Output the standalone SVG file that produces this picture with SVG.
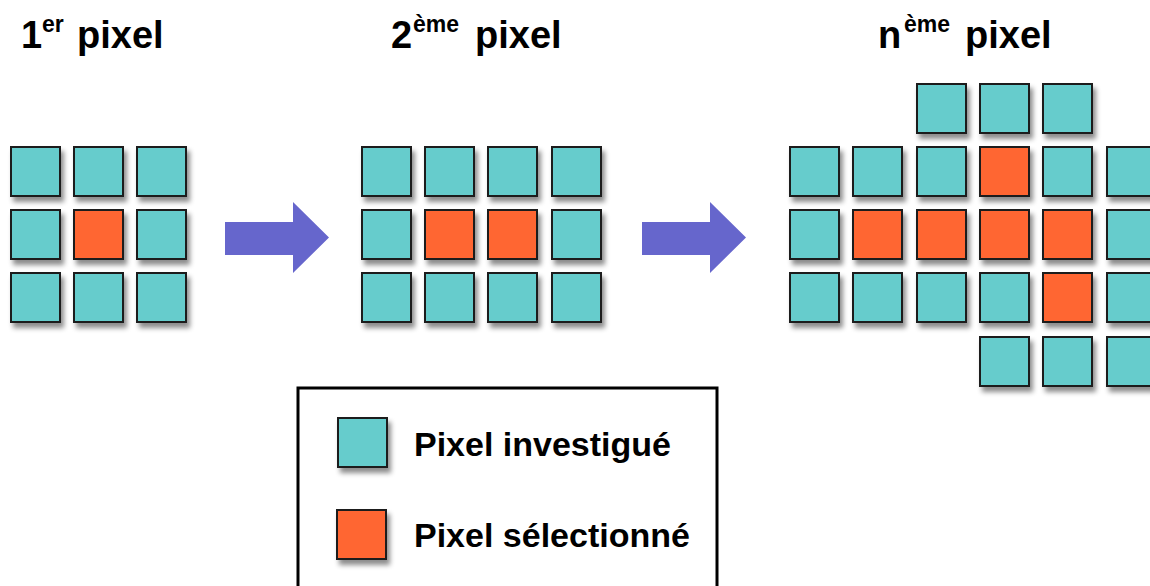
<svg xmlns="http://www.w3.org/2000/svg" width="1150" height="586" viewBox="0 0 1150 586">
<defs>
<filter id="sh" x="-20%" y="-20%" width="150%" height="150%">
<feDropShadow dx="3" dy="5" stdDeviation="2.5" flood-color="#000" flood-opacity="0.45"/>
</filter>
</defs>
<style>
.t{fill:#66CCCC;stroke:#1a1a1a;stroke-width:2;filter:url(#sh)}
.o{fill:#FF6633;stroke:#1a1a1a;stroke-width:2;filter:url(#sh)}
.ttl{font-family:"Liberation Sans",Arial,sans-serif;font-weight:bold;font-size:38px;fill:#000}
.sup{font-family:"Liberation Sans",Arial,sans-serif;font-weight:bold;font-size:23px;fill:#000}
.lg{font-family:"Liberation Sans",Arial,sans-serif;font-weight:bold;font-size:34px;fill:#000}
.arr{fill:#6666CC}
</style>
<rect width="1150" height="586" fill="#fff"/>
<g id="titles">
<text class="ttl" x="21" y="48">1</text><text class="sup" x="42" y="32">er</text><text class="ttl" x="77" y="48">pixel</text>
<text class="ttl" x="391" y="48">2</text><text class="sup" x="413" y="32">ème</text><text class="ttl" x="475" y="48">pixel</text>
<text class="ttl" x="878" y="48">n</text><text class="sup" x="904" y="32">ème</text><text class="ttl" x="965" y="48">pixel</text>
</g>
<g id="grid1">
<rect class="t" x="11" y="147" width="49" height="49"/><rect class="t" x="74" y="147" width="49" height="49"/><rect class="t" x="137" y="147" width="49" height="49"/>
<rect class="t" x="11" y="210" width="49" height="49"/><rect class="o" x="74" y="210" width="49" height="49"/><rect class="t" x="137" y="210" width="49" height="49"/>
<rect class="t" x="11" y="273" width="49" height="49"/><rect class="t" x="74" y="273" width="49" height="49"/><rect class="t" x="137" y="273" width="49" height="49"/>
</g>
<g id="grid2">
<rect class="t" x="362" y="147" width="49" height="49"/><rect class="t" x="425" y="147" width="49" height="49"/><rect class="t" x="488" y="147" width="49" height="49"/><rect class="t" x="552" y="147" width="49" height="49"/>
<rect class="t" x="362" y="210" width="49" height="49"/><rect class="o" x="425" y="210" width="49" height="49"/><rect class="o" x="488" y="210" width="49" height="49"/><rect class="t" x="552" y="210" width="49" height="49"/>
<rect class="t" x="362" y="273" width="49" height="49"/><rect class="t" x="425" y="273" width="49" height="49"/><rect class="t" x="488" y="273" width="49" height="49"/><rect class="t" x="552" y="273" width="49" height="49"/>
</g>
<g id="grid3">
<rect class="t" x="917" y="84" width="49" height="49"/><rect class="t" x="980" y="84" width="49" height="49"/><rect class="t" x="1043" y="84" width="49" height="49"/>
<rect class="t" x="790" y="147" width="49" height="49"/><rect class="t" x="853" y="147" width="49" height="49"/><rect class="t" x="917" y="147" width="49" height="49"/><rect class="o" x="980" y="147" width="49" height="49"/><rect class="t" x="1043" y="147" width="49" height="49"/><rect class="t" x="1107" y="147" width="49" height="49"/>
<rect class="t" x="790" y="210" width="49" height="49"/><rect class="o" x="853" y="210" width="49" height="49"/><rect class="o" x="917" y="210" width="49" height="49"/><rect class="o" x="980" y="210" width="49" height="49"/><rect class="o" x="1043" y="210" width="49" height="49"/><rect class="t" x="1107" y="210" width="49" height="49"/>
<rect class="t" x="790" y="273" width="49" height="49"/><rect class="t" x="853" y="273" width="49" height="49"/><rect class="t" x="917" y="273" width="49" height="49"/><rect class="t" x="980" y="273" width="49" height="49"/><rect class="o" x="1043" y="273" width="49" height="49"/><rect class="t" x="1107" y="273" width="49" height="49"/>
<rect class="t" x="980" y="337" width="49" height="49"/><rect class="t" x="1043" y="337" width="49" height="49"/><rect class="t" x="1107" y="337" width="49" height="49"/>
</g>
<g id="connectors">
<polygon class="arr" points="225,222 293,222 293,202 329,237.5 293,273 293,255 225,255"/>
<polygon class="arr" points="642,222 710,222 710,202 746,237.5 710,273 710,255 642,255"/>
</g>
<g id="legend">
<rect x="298" y="388" width="419" height="220" fill="#fff" stroke="#000" stroke-width="3"/>
<rect class="t" x="338" y="418" width="49" height="49"/>
<text class="lg" x="414" y="456">Pixel investigué</text>
<rect class="o" x="337" y="510" width="49" height="49"/>
<text class="lg" x="414" y="547">Pixel sélectionné</text>
</g>
</svg>
